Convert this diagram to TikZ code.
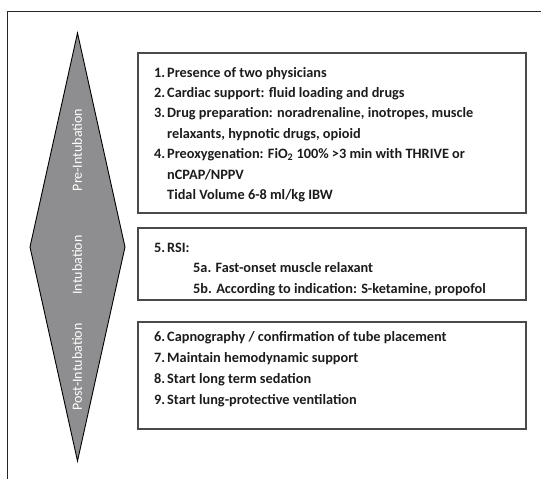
\documentclass[tikz,border=0pt]{standalone}
\usepackage{fontspec}
\setmainfont{Carlito}

\definecolor{phasegray}{HTML}{8E8E90}
\definecolor{boxgray}{HTML}{4A4A4A}
\definecolor{inktext}{HTML}{1C1C1C}

\tikzset{
  frameline/.style={draw=black!85, line width=0.9pt},
  phasebox/.style={draw=black, line width=0.9pt, fill=phasegray, line join=miter},
  phaselabel/.style={rotate=90, text=white, inner sep=0pt, font=\fontsize{14}{15}\selectfont},
  stepbox/.style={draw=boxgray, line width=1.2pt},
  steptext/.style={inner sep=0pt, text=inktext, font=\bfseries\fontsize{14.3}{16}\selectfont}
}

% one numbered line of a box: name, baseline, number, text
\newcommand{\stepline}[4]{
  \node[steptext, anchor=base west] (#1) at (154,#2) {\makebox[13pt][l]{#3}#4};
}

\begin{document}
\begin{tikzpicture}[x=1pt,y=-1pt]
\useasboundingbox (0,0) rectangle (541,479);

% outer frame
\draw[frameline] (541,11) -- (7.5,11) -- (7.5,479);

% phase diamond
\coordinate (dtop) at (77.5,33);
\coordinate (dleft) at (30,247);
\coordinate (dbot) at (77.5,461);
\coordinate (dright) at (125,247);
\draw[phasebox] (dtop) -- (dleft) -- (dbot) -- (dright) -- cycle;

\node[phaselabel] (prelab) at (77,150) {Pre-Intubation};
\node[phaselabel] (intlab) at (77,265) {Intubation};
\node[phaselabel] (postlab) at (77,367) {Post-Intubation};

% boxes
\draw[stepbox] (138,53) rectangle (526,213);
\draw[stepbox] (138,228) rectangle (526,300);
\draw[stepbox] (138,322) rectangle (526,429);

% pre-intubation
\stepline{s1}{77}{1.}{Presence of two physicians}
\stepline{s2}{97.4}{2.}{Cardiac support: fluid loading and drugs}
\stepline{s3}{117.8}{3.}{Drug preparation: noradrenaline, inotropes, muscle}
\stepline{s3b}{138.2}{}{relaxants, hypnotic drugs, opioid}
\stepline{s4}{158.6}{4.}{Preoxygenation: FiO\textsubscript{2} 100\% >3 min with THRIVE or}
\stepline{s4b}{179}{}{nCPAP/NPPV}
\stepline{s4c}{199.4}{}{Tidal Volume 6-8 ml/kg IBW}

% intubation
\stepline{s5}{252}{5.}{RSI:}
\node[steptext, anchor=base west] (s5a) at (193,272) {5a. Fast-onset muscle relaxant};
\node[steptext, anchor=base west] (s5b) at (193,293) {5b. According to indication: S-ketamine, propofol};

% post-intubation
\stepline{s6}{341}{6.}{Capnography / confirmation of tube placement}
\stepline{s7}{362.3}{7.}{Maintain hemodynamic support}
\stepline{s8}{383.6}{8.}{Start long term sedation}
\stepline{s9}{404.9}{9.}{Start lung-protective ventilation}
\end{tikzpicture}
\end{document}
